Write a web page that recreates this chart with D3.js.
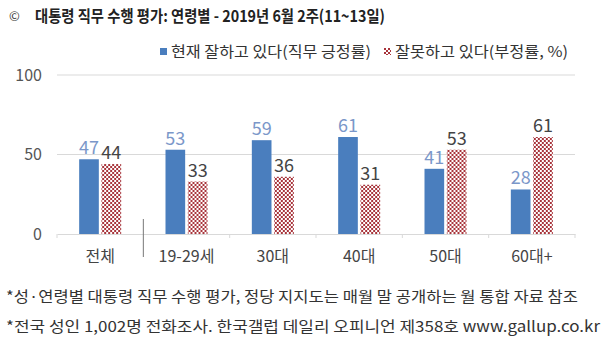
<!DOCTYPE html>
<html><head><meta charset="utf-8">
<script src="https://d3js.org/d3.v7.min.js"></script>
<style>
body{margin:0;background:#fff;}
svg{display:block;font-family:"Noto Sans CJK KR","Noto Sans",sans-serif;}
</style></head>
<body>
<svg id="c" width="614" height="356"></svg>
<script>
const categories = ["전체","19-29세","30대","40대","50대","60대+"];
const positive = [47,53,59,61,41,28];
const negative = [44,33,36,31,53,61];
const yTicks = [0,50,100];
const seriesNames = ["현재 잘하고 있다(직무 긍정률)","잘못하고 있다(부정률, %)"];
const title = "대통령 직무 수행 평가: 연령별 - 2019년 6월 2주(11~13일)";
const notes = ["*성·연령별 대통령 직무 수행 평가, 정당 지지도는 매월 말 공개하는 월 통합 자료 참조",
               "*전국 성인 1,002명 전화조사. 한국갤럽 데일리 오피니언 제358호 www.gallup.co.kr"];

const svg = d3.select("#c");
const defs = svg.append("defs");
const pat = defs.append("pattern").attr("id","chk").attr("width",4).attr("height",4).attr("patternUnits","userSpaceOnUse");
pat.append("rect").attr("width",4).attr("height",4).attr("fill","#ffffff");
pat.append("rect").attr("width",2).attr("height",2).attr("fill","#a8343b");
pat.append("rect").attr("x",2).attr("y",2).attr("width",2).attr("height",2).attr("fill","#a8343b");

const blue = "#4a7ebe";
const x0 = d3.scaleBand().domain(categories).range([57,575]).paddingInner(0).paddingOuter(0);
const y = d3.scaleLinear().domain([0,100]).range([234,75]);
const inner = d3.scaleBand().domain([0,1]).range([-21,21]).paddingInner(0.12);

// title
svg.append("text").attr("x",9).attr("y",21).attr("font-size",13).attr("fill","#333").text("©");
svg.append("text").attr("x",35).attr("y",22).attr("font-size",16).attr("font-weight","bold").attr("fill","#222")
  .attr("textLength",350).attr("lengthAdjust","spacingAndGlyphs").text(title);

// gridlines
svg.append("g").selectAll("line").data(yTicks.filter(d=>d>0)).join("line")
  .attr("x1",57).attr("x2",575).attr("y1",d=>y(d)).attr("y2",d=>y(d))
  .attr("stroke","#d9d9d9").attr("stroke-width",1);

// y axis labels
const ya = svg.append("g").attr("transform","translate(57,0)").call(d3.axisLeft(y).tickValues(yTicks).tickSize(0).tickPadding(15));
ya.select(".domain").remove();
ya.selectAll("text").attr("font-size",16).attr("fill","#555").attr("font-family","'Noto Sans CJK KR',sans-serif");

// x axis
const xa = svg.append("g").attr("transform",`translate(0,${y(0)})`).call(d3.axisBottom(x0).tickSize(0).tickPadding(17));
xa.select(".domain").attr("stroke","#d9d9d9");
xa.selectAll("text").attr("font-size",16).attr("fill","#444").attr("font-family","'Noto Sans CJK KR',sans-serif");
// category ticks
const bounds = categories.map(c=>x0(c)).concat([x0(categories[categories.length-1])+x0.bandwidth()]);
svg.append("g").selectAll("line").data(bounds).join("line")
  .attr("x1",d=>d).attr("x2",d=>d)
  .attr("y1",(d,i)=>i===1?219:y(0)).attr("y2",(d,i)=>i===1?257:y(0)+4)
  .attr("stroke",(d,i)=>i===1?"#777":"#d9d9d9");

// bars
const g = svg.append("g").selectAll("g").data(categories).join("g")
  .attr("transform",d=>`translate(${x0(d)+x0.bandwidth()/2},0)`);
g.append("rect").attr("x",inner(0)).attr("width",inner.bandwidth())
  .attr("y",(d,i)=>y(positive[i])).attr("height",(d,i)=>y(0)-y(positive[i])).attr("fill",blue);
g.append("rect").attr("x",inner(1)).attr("width",inner.bandwidth())
  .attr("y",(d,i)=>y(negative[i])).attr("height",(d,i)=>y(0)-y(negative[i])).attr("fill","url(#chk)");
g.append("text").attr("x",inner(0)+inner.bandwidth()/2).attr("y",(d,i)=>y(positive[i])-5)
  .attr("text-anchor","middle").attr("font-size",18).attr("fill","#7b97c9").text((d,i)=>positive[i]);
g.append("text").attr("x",inner(1)+inner.bandwidth()/2).attr("y",(d,i)=>y(negative[i])-5)
  .attr("text-anchor","middle").attr("font-size",18).attr("fill","#444").text((d,i)=>negative[i]);

// legend
const lg = svg.append("g");
lg.append("rect").attr("x",160).attr("y",48).attr("width",7).attr("height",7).attr("fill",blue);
lg.append("text").attr("x",171).attr("y",57).attr("font-size",15).attr("fill","#333")
  .attr("textLength",200).attr("lengthAdjust","spacingAndGlyphs").text(seriesNames[0]);
lg.append("rect").attr("x",384).attr("y",48).attr("width",7).attr("height",7).attr("fill","url(#chk)");
lg.append("text").attr("x",395).attr("y",57).attr("font-size",15).attr("fill","#333")
  .attr("textLength",173).attr("lengthAdjust","spacingAndGlyphs").text(seriesNames[1]);

// notes
svg.append("text").attr("x",6).attr("y",302).attr("font-size",15).attr("fill","#333")
  .attr("textLength",572).attr("lengthAdjust","spacingAndGlyphs").text(notes[0]);
svg.append("text").attr("x",6).attr("y",332).attr("font-size",15).attr("fill","#333")
  .attr("textLength",594).attr("lengthAdjust","spacingAndGlyphs").text(notes[1]);
</script>
</body></html>
